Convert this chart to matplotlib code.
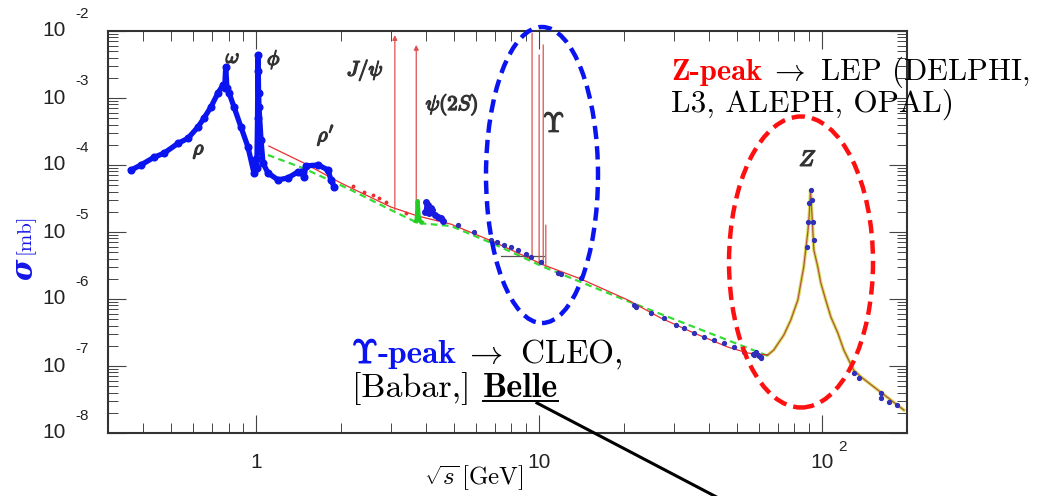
import matplotlib
matplotlib.use('Agg')
import matplotlib.pyplot as plt
import matplotlib.patheffects as pe
from matplotlib.patches import Ellipse
from matplotlib.lines import Line2D

plt.rcParams['mathtext.fontset'] = 'cm'

W, H = 1038, 496   # figure size in pixels (dpi 100)

# low energy e+e- -> hadrons data (rho, omega, phi, rho')
lo_x = [0.362, 0.392, 0.436, 0.473, 0.530, 0.575, 0.624, 0.655, 0.694, 0.734,
        0.765, 0.775, 0.782, 0.790, 0.803, 0.836, 0.885, 0.937, 0.984, 1.000,
        1.007, 1.013, 1.0164, 1.019, 1.022, 1.025, 1.042, 1.059, 1.103, 1.196,
        1.297, 1.407, 1.44, 1.48, 1.50, 1.66, 1.80, 1.84, 1.89]
lo_y = [8.4e-5, 1.0e-4, 1.3e-4, 1.5e-4, 2.1e-4, 2.5e-4, 3.7e-4, 5.0e-4, 7.4e-4, 1.19e-3,
        1.56e-3, 1.4e-3, 2.9e-3, 1.4e-3, 1.2e-3, 7.4e-4, 3.7e-4, 1.86e-4, 7.6e-5, 1.25e-4,
        9.0e-5, 5.0e-4, 4.4e-3, 2.5e-3, 1.2e-3, 7.4e-4, 2.4e-4, 1.07e-4, 7.6e-5, 6.0e-5,
        6.4e-5, 7.9e-5, 7.9e-5, 6.6e-5, 9.7e-5, 1.0e-4, 8.4e-5, 6.0e-5, 4.7e-5]

# charm region (blue) and psi(2S) scan (green)
ch_x = [3.97, 4.0, 4.04, 4.1, 4.16, 4.2, 4.28, 4.4, 4.5, 4.6]
ch_y = [2.0e-5, 2.8e-5, 2.5e-5, 1.9e-5, 2.3e-5, 2.1e-5, 1.8e-5, 1.7e-5, 1.6e-5, 1.45e-5]
gr_x = [3.68, 3.70, 3.72, 3.73, 3.74, 3.76, 3.80, 3.85]
gr_y = [1.45e-5, 1.6e-5, 2.2e-5, 2.9e-5, 2.4e-5, 1.7e-5, 1.45e-5, 1.4e-5]

# red data dots between 2 and 3.5 GeV
rd_x = [2.20, 2.41, 2.59, 2.72, 2.88, 3.39]
rd_y = [4.87e-5, 3.95e-5, 3.56e-5, 3.21e-5, 2.81e-5, 1.92e-5]

# higher energy points (blue)
hi_x = [5.17, 5.89, 6.77, 7.1, 7.52, 8.0, 8.43, 9.0, 9.37, 10.17, 11.67, 12.0, 14.07,
        21.7, 22.0, 24.9, 27.65, 30.5, 32.5, 35.3, 38.3, 41.5, 45.0, 48.9, 53.0,
        57.0, 57.5, 58.5, 59.4, 60.0, 60.9, 61.0,
        88.5, 89.5, 90.2, 91.2, 92.0, 93.0, 94.0,
        129.5, 135.0, 161.5, 161.5, 172.6, 185.0]
hi_y = [1.27e-5, 1.0e-5, 7.6e-6, 7.0e-6, 6.4e-6, 5.9e-6, 5.4e-6, 4.7e-6, 4.24e-6, 3.57e-6,
        2.44e-6, 2.4e-6, 2.06e-6,
        8.1e-7, 7.6e-7, 6.2e-7, 5.2e-7, 4.09e-7, 3.69e-7, 3.11e-7, 2.71e-7, 2.44e-7,
        2.20e-7, 1.92e-7, 1.62e-7, 1.51e-7, 1.45e-7, 1.6e-7, 1.46e-7, 1.4e-7, 1.36e-7, 1.3e-7,
        5.97e-6, 1.41e-5, 2.71e-5, 4.24e-5, 3.0e-5, 1.41e-5, 7.6e-6,
        7.9e-8, 6.6e-8, 3.96e-8, 3.33e-8, 2.9e-8, 2.62e-8]

# QCD prediction (red) and naive quark model (green dashed)
red_x = [1.111, 1.477, 1.997, 3.0, 3.735, 4.89, 6.94, 10.42, 14.07, 20.63,
         26.98, 35.3, 46.5, 54.8, 64.4]
red_y = [1.92e-4, 1.07e-4, 5.38e-5, 2.36e-5, 1.73e-5, 1.31e-5, 7.1e-6, 3.21e-6, 1.99e-6,
         9.66e-7, 5.2e-7, 3.11e-7, 1.92e-7, 1.56e-7, 1.46e-7]
gd_x = [1.102, 1.466, 2.166, 3.0, 3.735, 4.89, 6.94, 10.42, 20.6, 64.4]
gd_y = [1.41e-4, 9.0e-5, 4.24e-5, 2.13e-5, 1.36e-5, 1.23e-5, 6.6e-6, 3.0e-6, 9.3e-7, 1.42e-7]

# Z line shape
z_x = [64.4, 67.6, 73.4, 77.7, 82.3, 84.3, 86.3, 87.7, 89.3, 90.4, 91.2, 92.3, 93.7,
       96.8, 99.2, 103.2, 107.6, 113.9, 119.6, 129.5, 137.4, 157.7, 195]
z_y = [1.46e-7, 1.73e-7, 2.9e-7, 4.87e-7, 9.7e-7, 1.73e-6, 3.0e-6, 5.4e-6, 1.03e-5, 2.0e-5,
       4.2e-5, 1.8e-5, 5.4e-6, 3.0e-6, 1.73e-6, 9.7e-7, 5.4e-7, 3.11e-7, 1.73e-7, 8.7e-8,
       6.9e-8, 4.39e-8, 2.2e-8]

# narrow resonances (vertical red lines)
res_x = [3.097, 3.686, 9.46, 10.02, 10.36, 10.58]
res_lo = [2.13e-5, 1.51e-5, 4.09e-6, 3.57e-6, 3.21e-6, 3.1e-6]
res_hi = [8.7e-3, 6.2e-3, 9.3e-3, 4.39e-3, 6.2e-3, 1.27e-5]
res_head = [True, True, False, False, False, False]

# resonance labels
lab_txt = [r'$\rho$', r'$\omega$', r'$\phi$', r"$\rho'$", r'$J/\psi$', r'$\psi(2S)$', r'$Z$']
lab_x = [0.629, 0.829, 1.158, 1.767, 2.43, 4.93, 89.3]
lab_y = [1.67e-4, 4.1e-3, 3.7e-3, 2.8e-4, 2.62e-3, 7.87e-4, 1.19e-4]
lab_size = [15, 15, 15, 15, 15, 15, 16]

fig = plt.figure(figsize=(W / 100, H / 100), dpi=100)
ax = fig.add_axes([108 / W, 63 / H, 799 / W, 402 / H])
ax.set_xscale('log')
ax.set_yscale('log')
ax.set_xlim(0.30, 200)
ax.set_ylim(1e-8, 1e-2)

ax.plot(z_x, z_y, '-', color='#d8dc60', lw=2.4, zorder=2)
ax.plot(z_x, z_y, '-', color='#b05a3a', lw=0.9, zorder=3)
ax.plot(gd_x, gd_y, '--', color='#33dd33', lw=1.6, dashes=(3, 2), zorder=2)
ax.plot(red_x, red_y, '-', color='#e83030', lw=0.9, zorder=3)
ax.plot(rd_x, rd_y, 'o', color='#e83030', ms=1.8, zorder=3)

for x, lo, hi, head in zip(res_x, res_lo, res_hi, res_head):
    ax.annotate('', xy=(x, hi), xytext=(x, lo),
                arrowprops=dict(arrowstyle='-|>' if head else '-', color='#e05050',
                                lw=0.9, shrinkA=0, shrinkB=0, mutation_scale=7))
ax.plot([7.34, 10.4], [4.39e-6, 4.39e-6], color='#555555', lw=0.9)

ax.plot(lo_x, lo_y, '-', color='#0a14f0', lw=3.8, zorder=4)
ax.plot(lo_x, lo_y, 'o', color='#0a14f0', ms=4.8, zorder=4)
ax.plot(ch_x, ch_y, '-o', color='#1a1ae0', lw=2.5, ms=4, zorder=4)
ax.plot(gr_x, gr_y, '-', color='#22cc22', lw=3, zorder=4)
ax.plot(hi_x, hi_y, 'o', color='#3030b8', ms=2.8, zorder=4)

bold = [pe.withStroke(linewidth=1.0, foreground='#333333')]
for t, x, y, fs in zip(lab_txt, lab_x, lab_y, lab_size):
    ax.text(x, y, t, ha='center', va='center', fontsize=fs, color='#333333',
            path_effects=bold)
ax.text(11.3, 4.1e-4, r'$\Upsilon$', ha='center', va='center', fontsize=20, color='#333333',
        path_effects=[pe.withStroke(linewidth=0.8, foreground='#333333')])

# axes style
for s in ax.spines.values():
    s.set_linewidth(1.5)
    s.set_color('#333333')
ax.tick_params(which='both', direction='in', top=True, right=True,
               labelbottom=False, labelleft=False, color='#444444')
ax.tick_params(which='major', length=13, width=0.8)
ax.tick_params(which='minor', length=7, width=0.7)

tick_font = dict(family='Liberation Sans', color='#222222', ha='center', va='center',
                 textcoords='offset pixels', annotation_clip=False)
for e in range(-8, -1):
    ax.annotate('10', xy=(0, 10.0 ** e), xycoords=('axes fraction', 'data'),
                xytext=(-54, 0), fontsize=15, **tick_font)
    ax.annotate(str(e), xy=(0, 10.0 ** e), xycoords=('axes fraction', 'data'),
                xytext=(-26, 17), fontsize=11, **tick_font)
for v in [1, 10, 100]:
    txt = '10' if v == 100 else str(v)
    ax.annotate(txt, xy=(v, 0), xycoords=('data', 'axes fraction'),
                xytext=(0, -30), fontsize=15, **tick_font)
ax.annotate('2', xy=(100, 0), xycoords=('data', 'axes fraction'),
            xytext=(21, -14), fontsize=11, **tick_font)

# axis titles
fig.text(474 / W, 1 - 478 / H, r'$\sqrt{s}\,[\mathrm{GeV}]$', ha='center', va='center',
         fontsize=18)
fig.text(24 / W, 1 - 269 / H, 'σ', rotation=90, ha='center', va='center', fontsize=21,
         family='DejaVu Serif', weight='bold', style='italic', color='#1515e8')
fig.text(25 / W, 1 - 234 / H, '[mb]', rotation=90, ha='center', va='center', fontsize=15,
         family='cmr10', color='#1515e8')

# annotations
fig.add_artist(Ellipse((542 / W, 1 - 175 / H), 112 / W, 296 / H, transform=fig.transFigure,
                       fill=False, ec='#0a14f0', lw=3.2, ls=(0, (3, 1.6))))
fig.add_artist(Ellipse((801 / W, 1 - 262 / H), 144 / W, 291 / H, transform=fig.transFigure,
                       fill=False, ec='#ff1010', lw=3.2, ls=(0, (3, 1.6))))
fig.add_artist(Line2D([537 / W, 728 / W], [1 - 403 / H, 1 - 503 / H], color='black', lw=2.2))

renderer = fig.canvas.get_renderer()


def text_line(parts, x, y, size):
    # pieces one after the other on one baseline; x/y in pixels from top left,
    # each piece: (text, colour, family, gap in pixels before it, stroke)
    last = None
    for s, col, fam, gap, stroke in parts:
        kw = {}
        if stroke:
            kw['path_effects'] = [pe.withStroke(linewidth=0.9, foreground=col)]
        last = fig.text((x + gap) / W, 1 - y / H, s, color=col, family=fam, fontsize=size,
                        ha='left', va='baseline', **kw)
        x = last.get_window_extent(renderer).x1
    return last


text_line([('Z-peak', '#ff0000', 'cmb10', 0, False),
           (r'$\rightarrow$ LEP (DELPHI,', 'black', 'cmr10', 7, False)], 671, 80, 22)
text_line([('L3, ALEPH, OPAL)', 'black', 'cmr10', 0, False)], 671, 112, 22.5)
text_line([(r'$\Upsilon$', '#0a14f0', 'cmr10', 0, True),
           ('-peak', '#0a14f0', 'cmb10', 0, False),
           (r'$\rightarrow$ CLEO,', 'black', 'cmr10', 7, False)], 352, 363, 24)
text_line([('[Babar,]', 'black', 'cmr10', 0, False)], 352, 397, 24.5)
belle = text_line([('Belle', 'black', 'cmb10', 0, False)], 483, 397, 24.5)
bb = belle.get_window_extent(renderer)
fig.add_artist(Line2D([bb.x0 / W, bb.x1 / W], [1 - 401 / H, 1 - 401 / H], color='black', lw=1.4))

fig.savefig('out.png', dpi=100)
